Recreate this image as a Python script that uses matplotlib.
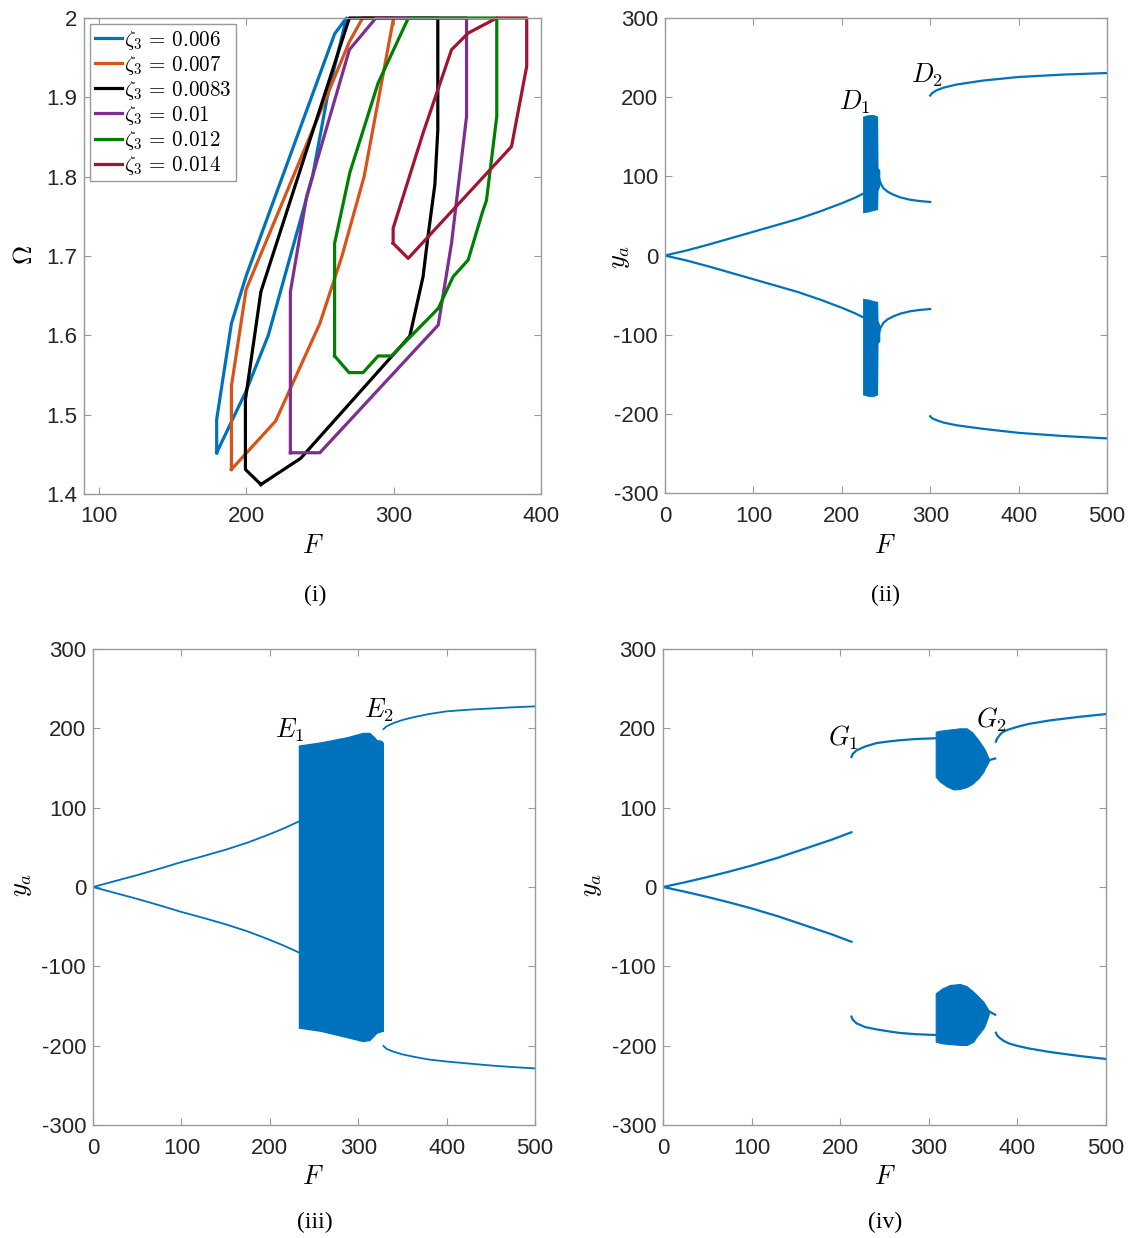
import numpy as np
import matplotlib
matplotlib.use('Agg')
import matplotlib.pyplot as plt

plt.rcParams['mathtext.fontset'] = 'cm'
plt.rcParams['font.family'] = ['Liberation Sans', 'DejaVu Sans']
plt.rcParams['axes.unicode_minus'] = False

# ---------------- panel (i): boundaries in (F, Omega) plane ----------------
zeta_labels = [r'$\zeta_3\,=\,0.006$', r'$\zeta_3\,=\,0.007$', r'$\zeta_3\,=\,0.0083$',
               r'$\zeta_3\,=\,0.01$', r'$\zeta_3\,=\,0.012$', r'$\zeta_3\,=\,0.014$']
zeta_colors = ['#0072BD', '#D95319', '#000000', '#7E2F8E', '#008000', '#A2142F']

F_z006 = [180, 180, 190, 200, 260, 268, 255, 245, 230, 215, 200, 180]
W_z006 = [1.452, 1.494, 1.615, 1.675, 1.98, 2.0, 1.90, 1.80, 1.70, 1.60, 1.53, 1.452]

F_z007 = [190, 190, 200, 270, 279, 300, 290, 280, 265, 250, 220, 190]
W_z007 = [1.431, 1.536, 1.658, 1.97, 2.0, 2.0, 1.90, 1.80, 1.70, 1.615, 1.492, 1.431]

F_z0083 = [210, 199.5, 199.5, 210, 270, 330, 330, 328, 323, 320, 311, 237, 210]
W_z0083 = [1.412, 1.431, 1.519, 1.655, 2.0, 2.0, 1.859, 1.79, 1.72, 1.674, 1.599, 1.445, 1.412]

F_z010 = [230, 230, 241, 270, 288, 349.5, 349.5, 339.3, 330.3, 250, 230]
W_z010 = [1.452, 1.655, 1.775, 1.96, 2.0, 2.0, 1.876, 1.716, 1.613, 1.452, 1.452]

F_z012 = [260, 260, 270.3, 289.5, 310, 370, 370, 363, 360.4, 350.6, 340.4, 330.3,
          298.6, 289.5, 279.3, 269.8, 260]
W_z012 = [1.574, 1.716, 1.805, 1.918, 2.0, 2.0, 1.876, 1.77, 1.756, 1.695, 1.674, 1.634,
          1.574, 1.574, 1.553, 1.553, 1.574]

F_z014 = [299.7, 299.7, 320, 339.3, 350.6, 370, 390.3, 390.3, 380, 309.9, 299.7]
W_z014 = [1.716, 1.735, 1.855, 1.96, 1.981, 2.0, 2.0, 1.939, 1.838, 1.697, 1.716]

F_curves = [F_z006, F_z007, F_z0083, F_z010, F_z012, F_z014]
W_curves = [W_z006, W_z007, W_z0083, W_z010, W_z012, W_z014]

# ---------------- panel (ii) ----------------
ii_br1_F = [0, 25, 50, 75, 100, 125, 150, 175, 200, 215, 224]
ii_br1_y = [0, 6.5, 14, 22, 30, 38, 46, 55.5, 66, 73, 78]
ii_band_F = [223.5, 230, 236, 240.5, 241, 243]
ii_band_top = [176, 178, 178, 176, 111, 108]
ii_band_bot = [54, 55, 57, 58, 82, 88]
ii_br2_F = [242, 244, 247, 252, 258, 266, 277, 288, 300]
ii_br2_y = [98, 91, 85, 80.5, 77, 73.5, 70.5, 68.8, 67.6]
ii_br3_F = [300, 302, 307, 315, 330, 360, 400, 450, 500]
ii_br3_up = [202, 205, 208.6, 212, 216, 221, 225.5, 228.5, 230.5]
ii_br3_lo = [-203, -205.5, -208, -211, -214.5, -219, -224, -228, -231]

# ---------------- panel (iii) ----------------
iii_br1_F = [0, 25, 50, 75, 98.7, 125, 150, 175, 198.6, 215, 233]
iii_br1_y = [0, 7.5, 15, 23, 31, 39, 47, 56, 66, 73.5, 82.6]
iii_band_F = [232.2, 257, 287, 305, 313, 318, 321, 326.6, 328.6]
iii_band_top = [179, 183, 189.5, 195, 195, 190, 186, 185, 182]
iii_band_bot = [-178, -182, -190, -195, -193.7, -188, -184.4, -182.4, -182]
iii_br2_F = [328.6, 332, 340, 350, 362.5, 380, 400, 425, 450, 475, 500]
iii_br2_up = [199, 202.5, 206.6, 210.5, 214, 218, 221.4, 223.5, 225, 226.5, 227.7]
iii_br2_lo = [-200.4, -204, -207.6, -211, -213.9, -217.5, -220, -222.5, -225, -227, -228.6]

# ---------------- panel (iv) ----------------
iv_br1_F = [0, 25, 50, 75, 100, 130, 162, 190, 212.7]
iv_br1_y = [0, 6, 12.5, 19.5, 27, 37, 49, 59.5, 69]
iv_g1_F = [212.7, 214, 218.4, 228, 241, 255, 267.5, 285, 308]
iv_g1_up = [163.8, 167.5, 172.2, 177, 181.4, 183.5, 185, 186.5, 187.5]
iv_g1_lo = [-163.4, -167, -171.8, -176.5, -179.5, -182, -184, -185.5, -186.6]
iv_blobU_F = [307.8, 312.6, 320, 327.7, 335, 342.7, 349, 355.9, 361.6, 363.4, 366, 368.3]
iv_blobU_top = [195.8, 197, 198, 199, 200, 200, 195, 185.3, 176, 172.7, 166, 160]
iv_blobU_bot = [139, 132.8, 127, 123, 123.5, 126, 130, 137, 145.3, 150, 155, 160]
iv_blobL_F = [307.8, 315, 323.9, 335.2, 342.7, 350.2, 354, 361.6, 363.4, 367.2, 368.3]
iv_blobL_top = [-134, -128, -123.5, -122.3, -125, -132, -136, -144.6, -148, -155, -157]
iv_blobL_bot = [-195, -197, -198, -199, -199.2, -195, -188.7, -178, -174, -162, -157]
iv_tailU_F = [368.3, 375]
iv_tailU_y = [160, 162]
iv_tailL_F = [368.3, 375]
iv_tailL_y = [-157, -161]
iv_g2_F = [375.8, 377, 380.3, 384, 390, 399, 412.5, 436.7, 470, 500]
iv_g2_up = [183.2, 187, 192, 195.8, 198.5, 201.6, 205.5, 210, 214.5, 218]
iv_g2_lo = [-183.7, -187, -190.5, -193.5, -197, -200, -203.4, -208, -213, -216.8]

blue = '#0072BD'
W, H = 1129, 1238
fig = plt.figure(figsize=(W / 100, H / 100), dpi=100)


def px_axes(x0, y0, x1, y1):
    return fig.add_axes([x0 / W, 1 - y1 / H, (x1 - x0) / W, (y1 - y0) / H])


def style(ax):
    for s in ax.spines.values():
        s.set_color('#9a9a9a')
        s.set_linewidth(1.0)
    ax.tick_params(direction='in', top=True, right=True, length=5, width=0.8,
                   color='#9a9a9a', labelsize=16, labelcolor='#262626')
    ax.tick_params(axis='x', pad=9)
    ax.tick_params(axis='y', pad=5)


def ftext(x, y, s, **kw):
    fig.text(x / W, 1 - y / H, s, ha='center', va='center', **kw)


ax1 = px_axes(84, 18, 541, 494)
ax2 = px_axes(665, 18, 1107, 493)
ax3 = px_axes(93, 649, 535, 1125)
ax4 = px_axes(663, 649, 1106, 1125)

# (i)
for Fs, Ws, lab, c in zip(F_curves, W_curves, zeta_labels, zeta_colors):
    ax1.plot(Fs, Ws, color=c, lw=2.3, label=lab, clip_on=False)
ax1.set_xlim(90, 400)
ax1.set_ylim(1.4, 2.0)
ax1.set_xticks([100, 200, 300, 400])
ax1.set_yticks([1.4, 1.5, 1.6, 1.7, 1.8, 1.9, 2.0])
ax1.set_yticklabels(['1.4', '1.5', '1.6', '1.7', '1.8', '1.9', '2'])
leg = ax1.legend(loc='upper left', fontsize=15.2, labelspacing=0.1, borderpad=0.2,
                 handletextpad=0.1, handlelength=1.3, borderaxespad=0.3,
                 fancybox=False, framealpha=1)
leg.get_frame().set_edgecolor('#9a9a9a')
leg.get_frame().set_linewidth(1.0)
style(ax1)

# (ii)
ax2.plot(ii_br1_F, ii_br1_y, color=blue, lw=1.6)
ax2.plot(ii_br1_F, [-v for v in ii_br1_y], color=blue, lw=1.6)
ax2.fill_between(ii_band_F, ii_band_bot, ii_band_top, color=blue, lw=0)
ax2.fill_between(ii_band_F, [-v for v in ii_band_top], [-v for v in ii_band_bot], color=blue, lw=0)
ax2.plot(ii_br2_F, ii_br2_y, color=blue, lw=1.6)
ax2.plot(ii_br2_F, [-v for v in ii_br2_y], color=blue, lw=1.6)
ax2.plot(ii_br3_F, ii_br3_up, color=blue, lw=1.6)
ax2.plot(ii_br3_F, ii_br3_lo, color=blue, lw=1.6)
ax2.text(215, 194, r'$D_1$', fontsize=19, ha='center', va='center')
ax2.text(296, 228, r'$D_2$', fontsize=19, ha='center', va='center')

# (iii)
ax3.plot(iii_br1_F, iii_br1_y, color=blue, lw=1.3)
ax3.plot(iii_br1_F, [-v for v in iii_br1_y], color=blue, lw=1.3)
ax3.fill_between(iii_band_F, iii_band_bot, iii_band_top, color=blue, lw=0)
ax3.plot(iii_br2_F, iii_br2_up, color=blue, lw=1.3)
ax3.plot(iii_br2_F, iii_br2_lo, color=blue, lw=1.3)
ax3.text(223, 198, r'$E_1$', fontsize=19, ha='center', va='center')
ax3.text(323.5, 223, r'$E_2$', fontsize=19, ha='center', va='center')

# (iv)
ax4.plot(iv_br1_F, iv_br1_y, color=blue, lw=1.6)
ax4.plot(iv_br1_F, [-v for v in iv_br1_y], color=blue, lw=1.6)
ax4.plot(iv_g1_F, iv_g1_up, color=blue, lw=1.6)
ax4.plot(iv_g1_F, iv_g1_lo, color=blue, lw=1.6)
ax4.fill_between(iv_blobU_F, iv_blobU_bot, iv_blobU_top, color=blue, lw=0.8, edgecolor=blue)
ax4.fill_between(iv_blobL_F, iv_blobL_bot, iv_blobL_top, color=blue, lw=0.8, edgecolor=blue)
ax4.plot(iv_tailU_F, iv_tailU_y, color=blue, lw=1.6)
ax4.plot(iv_tailL_F, iv_tailL_y, color=blue, lw=1.6)
ax4.plot(iv_g2_F, iv_g2_up, color=blue, lw=1.6)
ax4.plot(iv_g2_F, iv_g2_lo, color=blue, lw=1.6)
ax4.text(203, 188, r'$G_1$', fontsize=19, ha='center', va='center')
ax4.text(371, 210.5, r'$G_2$', fontsize=19, ha='center', va='center')

for ax in (ax2, ax3, ax4):
    ax.set_xlim(0, 500)
    ax.set_ylim(-300, 300)
    ax.set_xticks([0, 100, 200, 300, 400, 500])
    ax.set_yticks([-300, -200, -100, 0, 100, 200, 300])
    style(ax)

# axis and panel labels
lab_kw = dict(fontsize=19)
ftext(313, 546, r'$F$', **lab_kw)
ftext(885, 546, r'$F$', **lab_kw)
ftext(313, 1177, r'$F$', **lab_kw)
ftext(885, 1177, r'$F$', **lab_kw)
ftext(25, 255, r'$\Omega$', rotation=90, **lab_kw)
ftext(620, 257, r'$y_a$', rotation=90, **lab_kw)
ftext(22, 885, r'$y_a$', rotation=90, **lab_kw)
ftext(592, 885, r'$y_a$', rotation=90, **lab_kw)
pl_kw = dict(fontsize=17, family='Liberation Serif')
ftext(315, 595, '(i)', **pl_kw)
ftext(885, 595, '(ii)', **pl_kw)
ftext(315, 1222, '(iii)', **pl_kw)
ftext(885, 1222, '(iv)', **pl_kw)

fig.savefig('out.png', dpi=100)
